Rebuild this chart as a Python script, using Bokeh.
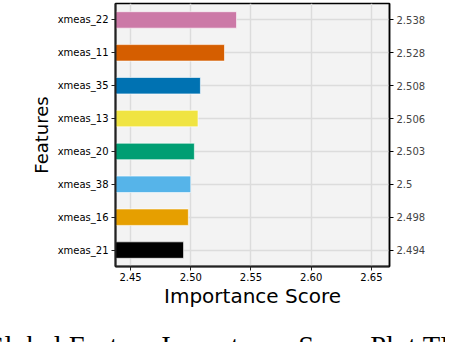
from bokeh.plotting import figure
from bokeh.models import FactorRange, CategoricalAxis, Range1d, FixedTicker, ColumnDataSource, Div
from bokeh.layouts import column
from bokeh.embed import file_html
from bokeh.resources import INLINE

features = ["xmeas_21", "xmeas_16", "xmeas_38", "xmeas_20", "xmeas_13", "xmeas_35", "xmeas_11", "xmeas_22"]
scores = [2.494, 2.498, 2.5, 2.503, 2.506, 2.508, 2.528, 2.538]
score_labels = ["2.494", "2.498", "2.5", "2.503", "2.506", "2.508", "2.528", "2.538"]
colors = ["#000000", "#E69F00", "#56B4E9", "#009E73", "#F0E442", "#0072B2", "#D55E00", "#CC79A7"]
x_ticks = [2.45, 2.50, 2.55, 2.60, 2.65]
caption = "Global Feature Importance Score Plot TEP"

FONT = "DejaVu Sans"

p = figure(width=456, height=330, output_backend="svg", toolbar_location=None,
           y_range=FactorRange(*features, range_padding=0),
           x_range=Range1d(2.4375, 2.665),
           min_border_left=115, min_border_right=67, min_border_top=3, min_border_bottom=64)

src = ColumnDataSource(dict(y=features, right=scores, color=colors))
p.hbar(y="y", left=0, right="right", height=0.5, fill_color="color",
       line_color="white", line_alpha=0.6, line_width=1, source=src)

p.background_fill_color = "#f3f3f3"
p.border_fill_color = "white"
p.outline_line_color = "black"
p.outline_line_width = 1.5

for g in (p.xgrid, p.ygrid):
    g.grid_line_color = "#dcdcdc"
    g.grid_line_width = 1.5

p.xaxis.ticker = FixedTicker(ticks=x_ticks)
p.xaxis.major_label_overrides = {t: f"{t:.2f}" for t in x_ticks}
p.xaxis.minor_tick_line_color = None
p.xaxis.axis_label = "Importance Score"
p.yaxis.axis_label = "Features"

for ax in (p.xaxis[0], p.yaxis[0]):
    ax.axis_line_width = 2
    ax.axis_line_color = "#222222"
    ax.major_tick_line_color = "#222222"
    ax.major_tick_out = 4
    ax.major_tick_in = 0
    ax.major_label_text_font = FONT
    ax.major_label_text_font_size = "10px"
    ax.major_label_text_color = "black"
    ax.axis_label_text_font = FONT
    ax.axis_label_text_font_style = "normal"
    ax.axis_label_text_color = "black"
    ax.major_label_standoff = 3

p.xaxis.major_label_standoff = 2
p.xaxis.axis_label_text_font_size = "20px"
p.xaxis.axis_label_standoff = 0
p.yaxis.axis_label_text_font_size = "18px"
p.yaxis.axis_label_standoff = 3

p.extra_y_ranges = {"vals": FactorRange(*score_labels, range_padding=0)}
rax = CategoricalAxis(y_range_name="vals")
rax.axis_line_width = 1.5
rax.axis_line_color = "black"
rax.major_tick_out = 4
rax.major_tick_in = 0
rax.major_label_text_font = FONT
rax.major_label_text_font_size = "10px"
rax.major_label_standoff = 3
p.add_layout(rax, "right")

cap = Div(text=caption, width=472, height=12,
          styles={"font-family": "'Liberation Serif'", "font-size": "28.5px",
                  "line-height": "24px", "white-space": "nowrap",
                  "overflow": "hidden", "margin-left": "-16px", "color": "black"})

layout = column(p, cap, spacing=0)
open("out.html", "w").write(file_html(layout, INLINE))
